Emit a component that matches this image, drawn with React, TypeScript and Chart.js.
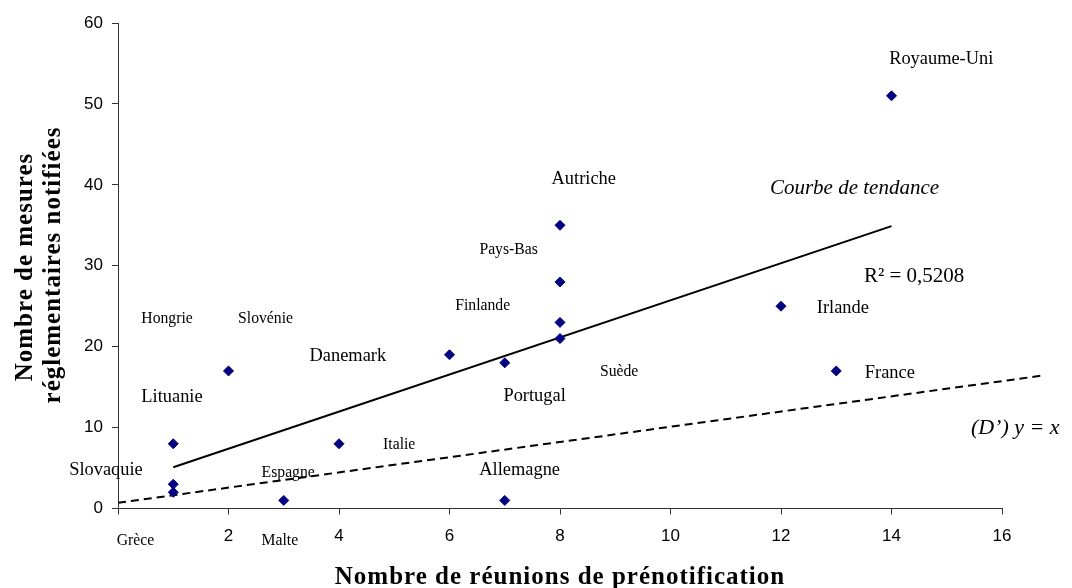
import React, { useEffect, useRef } from 'react';
import { Chart, registerables } from 'chart.js';

Chart.register(...registerables);

// Scatter: number of pre-notification meetings (x) vs number of notified regulatory measures (y)
const meetingsX = [14, 8, 8, 8, 8, 6, 7, 12, 13, 7, 2, 1, 4, 1, 1, 3];
const measuresY = [51, 35, 28, 23, 21, 19, 18, 25, 17, 1, 17, 8, 8, 3, 2, 1];

// Trend line
const trendX = [1, 14];
const trendY = [5.1, 34.9];

// Reference line (D') y = x (as drawn)
const refX = [0, 16.7];
const refY = [0.7, 16.4];

// Axes
const X_MIN = 0;
const X_MAX = 16;
const X_STEP = 2;
const Y_MIN = 0;
const Y_MAX = 60;
const Y_STEP = 10;

const xTitle = 'Nombre de réunions de prénotification';
const yTitleLines = ['Nombre de mesures', 'réglementaires notifiées'];

// Text annotations, placed in data coordinates
const labelTexts = [
  'Royaume-Uni', 'Autriche', 'Pays-Bas', 'Finlande', 'Hongrie', 'Slovénie', 'Danemark',
  'Lituanie', 'Slovaquie', 'Espagne', 'Grèce', 'Malte', 'Italie', 'Portugal', 'Suède',
  'Allemagne', 'Irlande', 'France', 'Courbe de tendance', 'R² = 0,5208', '(D’) y = x',
];
const labelX = [
  14.9, 8.43, 7.07, 6.6, 0.887, 2.67, 4.16,
  0.977, -0.217, 3.08, 0.317, 2.93, 5.09, 7.54, 9.07,
  7.27, 13.12, 13.97, 13.33, 14.41, 16.24,
];
const labelY = [
  55.57, 40.64, 31.9, 25.09, 23.44, 23.44, 18.78,
  13.76, 4.68, 4.43, -3.98, -3.98, 7.85, 13.83, 16.92,
  4.76, 24.77, 16.73, 39.53, 28.68, 9.92,
];
const labelKind = [
  'big', 'big', 'small', 'small', 'small', 'small', 'big',
  'big', 'big', 'small', 'small', 'small', 'small', 'big', 'small',
  'big', 'big', 'big', 'italicBig', 'mid', 'italicHuge',
];

const labelFont: Record<string, string> = {
  big: '18.4px "Liberation Serif"',
  small: '15.7px "Liberation Serif"',
  mid: '21px "Liberation Serif"',
  italicBig: 'italic 21px "Liberation Serif"',
  italicHuge: 'italic 22px "Liberation Serif"',
};

const annotationPlugin = {
  id: 'annotations',
  afterDatasetsDraw(chart: any) {
    const { ctx, scales } = chart;
    ctx.save();
    ctx.fillStyle = '#000';
    ctx.textAlign = 'center';
    ctx.textBaseline = 'middle';
    labelTexts.forEach((t, i) => {
      ctx.font = labelFont[labelKind[i]];
      ctx.fillText(t, scales.x.getPixelForValue(labelX[i]), scales.y.getPixelForValue(labelY[i]));
    });
    ctx.restore();

    // axis titles
    const area = chart.chartArea;
    ctx.save();
    ctx.fillStyle = '#000';
    ctx.font = 'bold 25px "Liberation Serif"';
    (ctx as any).letterSpacing = '1px';
    ctx.textAlign = 'center';
    ctx.textBaseline = 'alphabetic';
    ctx.fillText(xTitle, (area.left + area.right) / 2, 583.5);
    const lineBase = [32, 60];
    const lineCenter = [267, 265];
    yTitleLines.forEach((line, i) => {
      ctx.save();
      ctx.translate(lineBase[i], lineCenter[i]);
      ctx.rotate(-Math.PI / 2);
      ctx.fillText(line, 0, 0);
      ctx.restore();
    });
    ctx.restore();
  },
};

export default function App() {
  const canvasRef = useRef<HTMLCanvasElement | null>(null);

  useEffect(() => {
    if (!canvasRef.current) return;
    const tickFont = { family: '"Liberation Sans", Arial, sans-serif', size: 17 };
    const chart = new Chart(canvasRef.current, {
      type: 'scatter',
      data: {
        datasets: [
          {
            label: 'Pays',
            data: meetingsX.map((x, i) => ({ x, y: measuresY[i] })),
            backgroundColor: '#000080',
            borderColor: '#000080',
            pointStyle: 'rectRot',
            pointRadius: 5,
            pointBorderWidth: 1,
            showLine: false,
          },
          {
            label: 'Courbe de tendance',
            data: trendX.map((x, i) => ({ x, y: trendY[i] })),
            showLine: true,
            borderColor: '#000',
            borderWidth: 2,
            pointRadius: 0,
            clip: false,
          } as any,
          {
            label: "(D') y = x",
            data: refX.map((x, i) => ({ x, y: refY[i] })),
            showLine: true,
            borderColor: '#000',
            borderWidth: 2,
            borderDash: [8, 5],
            pointRadius: 0,
            clip: false,
          } as any,
        ],
      },
      options: {
        animation: false,
        responsive: false,
        events: [],
        layout: { padding: { top: 23, right: 70, left: 0, bottom: 0 } },
        plugins: {
          legend: { display: false },
          tooltip: { enabled: false },
        },
        scales: {
          x: {
            type: 'linear',
            min: X_MIN,
            max: X_MAX,
            ticks: {
              stepSize: X_STEP,
              font: tickFont,
              color: '#000',
              padding: 12,
              callback: (v: any) => (Number(v) === 0 ? '' : String(v)),
            },
            grid: { drawOnChartArea: false, tickLength: 6, color: '#333', lineWidth: 1 },
            border: { color: '#333', width: 1 },
            afterFit: (scale: any) => {
              scale.height = 79.5;
            },
          },
          y: {
            type: 'linear',
            min: Y_MIN,
            max: Y_MAX,
            ticks: { stepSize: Y_STEP, font: tickFont, color: '#000', padding: 9 },
            grid: { drawOnChartArea: false, tickLength: 6, color: '#333', lineWidth: 1 },
            border: { color: '#333', width: 1 },
            afterFit: (scale: any) => {
              scale.width = 118;
            },
          },
        },
      } as any,
      plugins: [annotationPlugin],
    });
    return () => chart.destroy();
  }, []);

  return (
    <div style={{ position: 'fixed', left: 0, top: 0, width: 1072, height: 588, background: '#fff' }}>
      <canvas ref={canvasRef} width={1072} height={588} style={{ display: 'block' }} />
    </div>
  );
}
